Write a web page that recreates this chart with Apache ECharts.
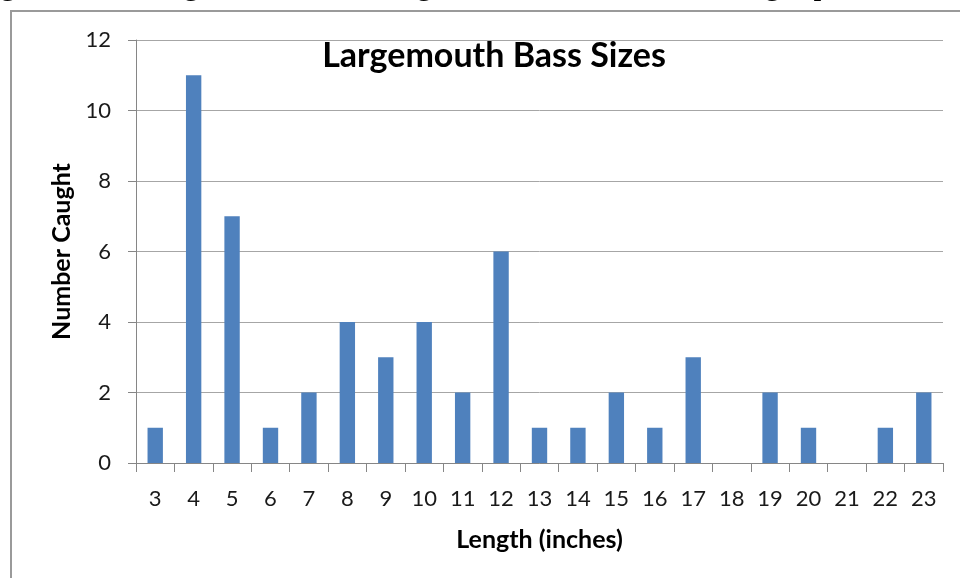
<!DOCTYPE html>
<html>
<head>
<meta charset="utf-8">
<script src="https://cdn.jsdelivr.net/npm/echarts@6/dist/echarts.min.js"></script>
<style>
html,body{margin:0;padding:0;background:#fff;}
#chart{width:960px;height:578px;}
</style>
</head>
<body>
<div id="chart"></div>
<script>
const categories = ['3','4','5','6','7','8','9','10','11','12','13','14','15','16','17','18','19','20','21','22','23'];
const counts = [1,11,7,1,2,4,3,4,2,6,1,1,2,1,3,0,2,1,0,1,2];
const yTicks = [0,2,4,6,8,10,12];
const titleText = 'Largemouth Bass Sizes';
const xName = 'Length (inches)';
const yName = 'Number Caught';
const topText = 'gth and the largest fish measuring 23\u00bc inches and almost eight pounds.';

const FONT = 'Lato, "Open Sans", sans-serif';
const chart = echarts.init(document.getElementById('chart'));
chart.setOption({
  animation: false,
  backgroundColor: '#fff',
  title: {
    text: titleText,
    left: 489, top: 34, textAlign: 'center',
    textStyle: {fontFamily: FONT, fontWeight: 'bold', fontSize: 34, color: '#000'}
  },
  graphic: [
    {type: 'text', left: 0, top: -30, style: {text: topText, font: '32px "Liberation Serif", serif', fill: '#000'}, silent: true},
    {type: 'rect', shape: {x: 11, y: 11, width: 980, height: 600}, style: {fill: 'none', stroke: '#9a9a9a', lineWidth: 2}, silent: true, z: 10}
  ],
  grid: {left: 136, right: 17, top: 40, bottom: 115},
  xAxis: {
    type: 'category',
    data: categories,
    name: xName,
    nameLocation: 'middle',
    nameGap: 64,
    nameTextStyle: {fontFamily: FONT, fontWeight: 'bold', fontSize: 25, color: '#000'},
    axisLine: {lineStyle: {color: '#868686', width: 1}},
    axisTick: {show: true, length: 9, lineStyle: {color: '#868686'}},
    axisLabel: {fontFamily: FONT, fontSize: 22, color: '#1a1a1a', margin: 25, interval: 0},
    splitLine: {show: false}
  },
  yAxis: {
    type: 'value',
    min: yTicks[0], max: yTicks[yTicks.length - 1], interval: 2,
    name: yName,
    nameLocation: 'middle',
    nameGap: 62,
    nameRotate: 90,
    nameTextStyle: {fontFamily: FONT, fontWeight: 'bold', fontSize: 25, color: '#000'},
    axisLine: {show: true, lineStyle: {color: '#868686', width: 1}},
    axisTick: {show: true, length: 8, lineStyle: {color: '#868686'}},
    axisLabel: {fontFamily: FONT, fontSize: 22, color: '#1a1a1a', margin: 25},
    splitLine: {show: true, lineStyle: {color: '#a6a6a6', width: 1}}
  },
  series: [{
    type: 'bar',
    data: counts,
    barWidth: '40%',
    itemStyle: {color: '#4f81bd'}
  }]
});
</script>
</body>
</html>
